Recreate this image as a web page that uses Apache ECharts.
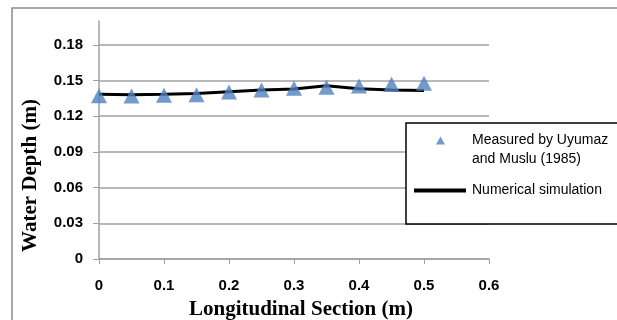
<!DOCTYPE html>
<html>
<head>
<meta charset="utf-8">
<script src="https://cdn.jsdelivr.net/npm/echarts@6/dist/echarts.min.js"></script>
<style>
  html, body { margin: 0; padding: 0; background: #fff; }
  #chart { width: 617px; height: 320px; }
</style>
</head>
<body>
<div id="chart"></div>
<script>
// ========== data ==========
const xPositions = [0, 0.05, 0.1, 0.15, 0.2, 0.25, 0.3, 0.35, 0.4, 0.45, 0.5];
const measuredDepth = [0.1372, 0.137, 0.1376, 0.138, 0.1403, 0.142, 0.1434, 0.1443, 0.1454, 0.1468, 0.1476];
const simulatedDepth = [0.1384, 0.1381, 0.1385, 0.139, 0.1405, 0.142, 0.1428, 0.1455, 0.1431, 0.1421, 0.1416];
const yTicks = [0, 0.03, 0.06, 0.09, 0.12, 0.15, 0.18];
const measuredName = "Measured by Uyumaz\nand Muslu (1985)";
const simulatedName = "Numerical simulation";

const chart = echarts.init(document.getElementById("chart"), null, { renderer: "canvas" });

const labelFont = { fontFamily: "Liberation Sans", fontWeight: "bold", fontSize: 15, color: "#000" };
const nameFont = { fontFamily: "Liberation Serif", fontWeight: "bold", fontSize: 21, color: "#000" };
const gridGrey = "#a0a0a0";

// 图例三角形：上方对齐第一行文字
const legendTriangle = "path://M4.5,0L9,8L0,8Z M0,27L0.01,27";

chart.setOption({
  animation: false,
  grid: { left: 99, right: 128, top: 21, bottom: 61, outerBoundsMode: "none" },
  xAxis: {
    type: "value",
    min: 0, max: 0.6, interval: 0.1,
    name: "Longitudinal Section (m)",
    nameLocation: "middle",
    nameGap: 40,
    nameTextStyle: { ...nameFont, padding: [0, 0, 0, 14] },
    axisLine: { lineStyle: { color: gridGrey, width: 1.5 } },
    axisTick: { show: true, length: 5, lineStyle: { color: gridGrey } },
    axisLabel: { ...labelFont, margin: 19 },
    splitLine: { show: false },
  },
  yAxis: {
    type: "value",
    min: 0, max: 0.2,
    name: "Water Depth (m)",
    nameLocation: "middle",
    nameGap: 58,
    nameTextStyle: { ...nameFont, padding: [0, 71, 0, 0] },
    axisLine: { show: true, lineStyle: { color: gridGrey, width: 1.5 } },
    axisTick: { show: true, length: 6, customValues: yTicks, lineStyle: { color: gridGrey } },
    axisLabel: {
      ...labelFont, margin: 16,
      customValues: yTicks,
      formatter: (v) => String(+v.toFixed(2)),
    },
    splitLine: { show: true, lineStyle: { width: 1.5, color: gridGrey } },
  },
  legend: [
    {
      data: [measuredName],
      orient: "vertical",
      left: 436, top: 131,
      padding: 0,
      icon: legendTriangle,
      itemWidth: 9, itemHeight: 27,
      textStyle: { fontFamily: "Liberation Sans", fontSize: 14, color: "#000", lineHeight: 19, padding: [0, 0, 0, 22] },
      selectedMode: false,
    },
    {
      data: [simulatedName],
      orient: "vertical",
      left: 412, top: 183,
      padding: 0,
      itemWidth: 52, itemHeight: 16,
      itemStyle: { opacity: 0 },
      lineStyle: { width: 4 },
      textStyle: { fontFamily: "Liberation Sans", fontSize: 14, color: "#000", padding: [0, 0, 0, 1] },
      selectedMode: false,
    },
  ],
  graphic: [
    // outer chart border
    { type: "rect", shape: { x: 12, y: 8, width: 700, height: 400 }, style: { fill: null, stroke: "#8c8c8c", lineWidth: 1.5 }, silent: true },
    // legend box
    { type: "rect", shape: { x: 406, y: 123, width: 300, height: 101 }, style: { fill: "#fff", stroke: "#000", lineWidth: 1.5 }, z: 1, silent: true },
  ],
  series: [
    {
      name: simulatedName,
      type: "line",
      data: xPositions.map((x, i) => [x, simulatedDepth[i]]),
      showSymbol: false,
      lineStyle: { color: "#000", width: 3 },
      itemStyle: { color: "#000" },
      z: 3,
    },
    {
      name: measuredName,
      type: "scatter",
      data: xPositions.map((x, i) => [x, measuredDepth[i]]),
      symbol: "triangle",
      symbolSize: [16, 15],
      itemStyle: { color: "#4f81bd" },
      z: 4,
    },
  ],
});
</script>
</body>
</html>
